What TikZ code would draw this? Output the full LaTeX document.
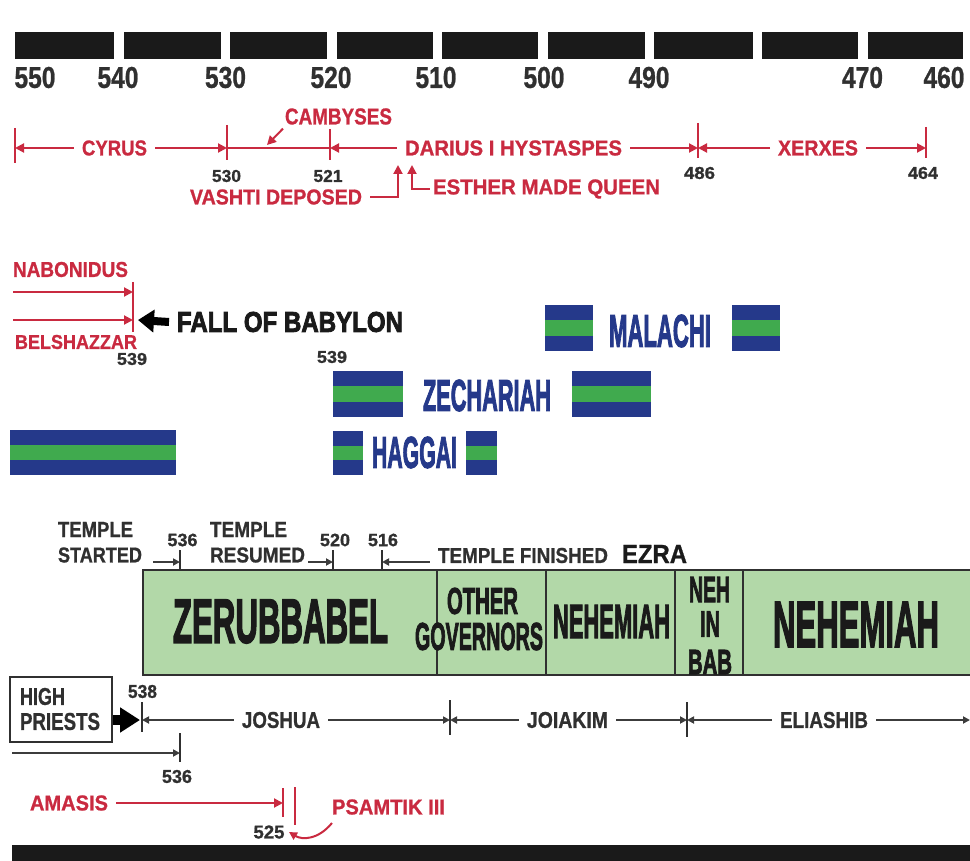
\documentclass[tikz,border=0pt]{standalone}
\usepackage{fontspec}
\setmainfont{Liberation Sans}
\newfontfamily\semifont{Liberation Sans}[BoldFeatures={FakeBold=1}]
\newfontfamily\heavyfont{Liberation Sans}[BoldFeatures={FakeBold=3}]
\usepackage{graphicx}
\usetikzlibrary{arrows.meta}
\definecolor{kred}{RGB}{201,42,64}
\definecolor{pblue}{RGB}{37,57,138}
\definecolor{pgreen}{RGB}{64,170,78}
\definecolor{gfill}{RGB}{178,216,168}
\definecolor{dgray}{RGB}{48,48,48}
\definecolor{lgray}{RGB}{60,60,60}
\definecolor{barblack}{RGB}{26,26,26}
\newcommand{\fit}[3]{\resizebox{#1pt}{#2pt}{\semifont\bfseries #3}}
\newcommand{\hfit}[3]{\resizebox{#1pt}{#2pt}{\heavyfont\bfseries #3}}
\newcommand{\stripeblock}[4]{%
  \fill[pblue] (#1,#2) rectangle (#3,#4);
  \fill[pgreen] (#1,{#2+(#4-#2)/3}) rectangle (#3,{#2+2*(#4-#2)/3});}
\tikzset{
  lbl/.style={inner sep=0pt, outer xsep=8pt, outer ysep=0pt},
  tlbl/.style={inner sep=0pt, outer sep=0pt, anchor=west, text=dgray},
  redtxt/.style={lbl, text=kred},
  graytxt/.style={lbl, text=dgray},
  blacktxt/.style={lbl, text=barblack},
  bluetxt/.style={lbl, text=pblue},
  kline/.style={draw=kred, line width=2pt},
  karrow/.style={kline, -{Triangle[length=9pt,width=9pt]}},
  gline/.style={draw=lgray, line width=2pt},
  garrow/.style={gline, -{Triangle[length=7pt,width=7pt]}},
  gtick/.style={draw=dgray, line width=1.8pt},
  divider/.style={draw=dgray, line width=1.6pt},
  bigarrow/.style={draw=black, line width=8pt, -{Triangle[length=16pt,width=22pt]}},
}
\begin{document}
\begin{tikzpicture}[x=1pt,y=-1pt]
\useasboundingbox (0,0) rectangle (970,861);
% top year bars
\foreach \a/\b in {15/114,124/221,230/327,337/433,442/538,548/645,654/753,762/858,868/963}
  \fill[barblack] (\a,32) rectangle (\b,59);
\foreach \xx/\yr in {35/550,118/540,225.5/530,331/520,436/510,544/500,649/490,862.5/470,944/460}
  \node[graytxt] (y\yr) at (\xx,77.5) {\fit{41}{21}{\yr}};

% ---- Persian kings ----
\draw[kline] (15,128) -- (15,163);
\coordinate (k550) at (15,148);
\node[redtxt] (cyrus) at (114.5,148) {\fit{65}{15}{CYRUS}};
\draw[karrow] (cyrus.west) -- (k550);
\draw[kline] (227,125) -- (227,160);
\coordinate (k530) at (227,148);
\draw[karrow] (cyrus.east) -- (k530);
\draw[kline] (330,129) -- (330,160);
\coordinate (k521) at (330,148);
\draw[kline] (k530) -- (k521);
\node[redtxt] (darius) at (513.5,148) {\fit{217}{15}{DARIUS I HYSTASPES}};
\draw[karrow] (darius.west) -- (k521);
\draw[kline] (698,123) -- (698,158);
\coordinate (k486) at (698,148);
\draw[karrow] (darius.east) -- (k486);
\node[redtxt] (xerxes) at (818,148) {\fit{80}{15}{XERXES}};
\draw[karrow] (xerxes.west) -- (k486);
\draw[kline] (926,127) -- (926,158);
\coordinate (k464) at (926,148);
\draw[karrow] (xerxes.east) -- (k464);
\node[graytxt] (n530) at (226.5,176) {\fit{29}{12}{530}};
\node[graytxt] (n521) at (328,176) {\fit{29}{12}{521}};
\node[graytxt] (n486) at (699.5,173) {\fit{31}{12}{486}};
\node[graytxt] (n464) at (923,173) {\fit{30}{12}{464}};
\node[redtxt] (camb) at (338.5,116.5) {\fit{107}{16}{CAMBYSES}};
\coordinate (cambtip) at (267,145);
\draw[karrow] ([shift={(6,4)}]camb.south west) -- (cambtip);
\node[redtxt] (vashti) at (276,197) {\fit{172}{15}{VASHTI DEPOSED}};
\coordinate (vtip) at (398,165);
\draw[karrow] (vashti.east) -- (398,197) -- (vtip);
\node[redtxt, outer xsep=3pt] (esther) at (546.5,189) {\fit{227}{15}{ESTHER MADE QUEEN}};
\coordinate (etip) at (412,165);
\draw[karrow] (esther.west) -- (412,189) -- (etip);

% ---- Babylon ----
\node[redtxt] (nabo) at (70.5,269.5) {\fit{115}{15}{NABONIDUS}};
\draw[kline] (133,282) -- (133,332);
\coordinate (nabos) at (13,292);
\coordinate (nabot) at (133,292);
\coordinate (bels) at (13,320);
\coordinate (belt) at (133,320);
\draw[karrow] (nabos) -- (nabot);
\draw[karrow] (bels) -- (belt);
\node[redtxt] (bel) at (76,342) {\fit{122}{14}{BELSHAZZAR}};
\node[graytxt] (n539a) at (132,359) {\fit{30}{12}{539}};
\node[blacktxt] (fall) at (290,322) {\hfit{226}{20}{FALL OF BABYLON}};
\coordinate (falltip) at (138,320);
\draw[bigarrow] (fall.west) -- (falltip);
\node[graytxt] (n539b) at (332,357) {\fit{30}{12}{539}};

% ---- prophets ----
\stripeblock{545}{305}{593}{351}
\stripeblock{732}{305}{780}{351}
\node[bluetxt] (mal) at (660,331) {\hfit{102}{32}{MALACHI}};
\stripeblock{333}{371}{403}{417}
\stripeblock{572}{371}{651}{417}
\node[bluetxt] (zech) at (487,395.5) {\hfit{128}{31}{ZECHARIAH}};
\stripeblock{333}{431}{363}{475}
\stripeblock{466}{431}{497}{475}
\node[bluetxt] (hag) at (414.5,452.5) {\hfit{85}{31}{HAGGAI}};
\stripeblock{10}{430}{176}{475}

% ---- temple ----
\node[tlbl] (ts1) at (58,529.5) {\fit{75}{15}{TEMPLE}};
\node[tlbl] (ts2) at (58,555) {\fit{84}{15}{STARTED}};
\draw[gtick] (180,550) -- (180,570);
\coordinate (t536) at (180,562);
\draw[garrow] ([shift={(11,7)}]ts2.east) -- (t536);
\node[graytxt] (n536a) at (182.5,540) {\fit{30}{12.5}{536}};
\node[tlbl] (tr1) at (210,529.5) {\fit{77}{15}{TEMPLE}};
\node[tlbl] (tr2) at (210,555) {\fit{95}{15}{RESUMED}};
\draw[gtick] (333,550) -- (333,570);
\coordinate (t520) at (333,562);
\draw[garrow] ([shift={(3,7)}]tr2.east) -- (t520);
\node[graytxt] (n520) at (335,540) {\fit{30}{12.5}{520}};
\draw[gtick] (382,550) -- (382,570);
\coordinate (t516) at (382,562);
\node[graytxt] (n516) at (383,540) {\fit{30}{12.5}{516}};
\node[graytxt] (tf) at (523,555.5) {\fit{170}{15}{TEMPLE FINISHED}};
\draw[garrow] ([shift={(0,6.5)}]tf.west) -- (t516);
\node[blacktxt] (ezra) at (654.5,554) {\fit{65}{18}{EZRA}};

% ---- governors ----
\filldraw[fill=gfill, draw=dgray, line width=1.6pt] (143,570) rectangle (972,675);
\foreach \xx in {437,546,675,743} \draw[divider] (\xx,570) -- (\xx,675);
\node[blacktxt] (zer) at (280.5,621.5) {\hfit{215}{43}{ZERUBBABEL}};
\node[blacktxt, fill=gfill] (oth) at (482.5,601) {\hfit{71}{26}{OTHER}};
\node[blacktxt, fill=gfill] (gov) at (479,636.5) {\hfit{128}{27}{GOVERNORS}};
\node[blacktxt] (neh1) at (611.5,621.5) {\hfit{117}{33}{NEHEMIAH}};
\node[blacktxt] (nehb1) at (709.5,589.5) {\hfit{41}{25}{NEH}};
\node[blacktxt] (nehb2) at (710,624) {\hfit{20}{25}{IN}};
\node[blacktxt] (nehb3) at (710,662) {\hfit{44}{24}{BAB}};
\node[blacktxt] (neh2) at (856,624.5) {\hfit{166}{45}{NEHEMIAH}};

% ---- high priests ----
\node[draw=dgray, line width=1.6pt, minimum width=102pt, minimum height=65pt, inner sep=0pt] (hp) at (61,709.5) {};
\node[tlbl] (hp1) at (20,696.5) {\fit{45}{17}{HIGH}};
\node[tlbl] (hp2) at (20,721.5) {\fit{80}{17}{PRIESTS}};
\coordinate (k538) at (142,720);
\coordinate (hptip) at (140,720);
\draw[draw=black, line width=10pt, -{Triangle[length=20pt,width=24pt]}] ([shift={(0,10.5)}]hp.east) -- (hptip);
\draw[gtick] (142,702) -- (142,732);
\node[graytxt] (n538) at (142.5,691.5) {\fit{29}{13}{538}};
\node[graytxt] (josh) at (281,720) {\fit{78}{16}{JOSHUA}};
\draw[garrow] (josh.west) -- (k538);
\draw[gtick] (450,700) -- (450,735);
\coordinate (k450) at (450,720);
\draw[garrow] (josh.east) -- (k450);
\node[graytxt] (joia) at (567.5,720) {\fit{81}{16}{JOIAKIM}};
\draw[garrow] (joia.west) -- (k450);
\draw[gtick] (687,702) -- (687,737);
\coordinate (k687) at (687,720);
\draw[garrow] (joia.east) -- (k687);
\node[graytxt] (elia) at (824,720) {\fit{88}{16}{ELIASHIB}};
\draw[garrow] (elia.west) -- (k687);
\coordinate (kend) at (970,720);
\draw[garrow] (elia.east) -- (kend);
\coordinate (hps) at (12,753);
\coordinate (k536b) at (180,753);
\draw[gtick] (180,733) -- (180,762);
\draw[garrow] (hps) -- (k536b);
\node[graytxt] (n536b) at (177,776.5) {\fit{30}{13}{536}};

% ---- Egypt ----
\node[redtxt] (amasis) at (69,803) {\fit{78}{15}{AMASIS}};
\draw[kline] (283,788) -- (283,817);
\draw[kline] (295,787) -- (295,825);
\coordinate (k525) at (283,803);
\draw[karrow] (amasis.east) -- (k525);
\node[redtxt] (psam) at (388.5,807) {\fit{113}{15}{PSAMTIK III}};
\coordinate (psamtip) at (289,832);
\draw[kline, -{Triangle[length=8pt,width=8pt]}] ([shift={(8,16)}]psam.west) .. controls (318,840) and (302,840) .. (psamtip);
\node[graytxt] (n525) at (269,832) {\fit{31}{13}{525}};

% bottom bar
\fill[barblack] (12,845) rectangle (970,861);
\end{tikzpicture}
\end{document}
